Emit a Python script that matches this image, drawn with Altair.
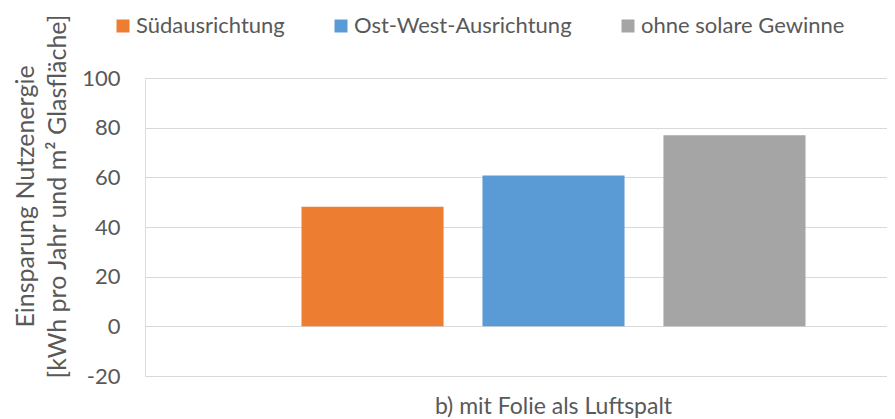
import altair as alt
import pandas as pd

categories = ["b) mit Folie als Luftspalt"]
series = ["Südausrichtung", "Ost-West-Ausrichtung", "ohne solare Gewinne"]
values = [48.2, 60.7, 76.9]
colors = ["#ED7D31", "#5B9BD5", "#A5A5A5"]
y_ticks = [-20, 0, 20, 40, 60, 80, 100]
y_title = ["Einsparung Nutzenergie", "[kWh pro Jahr und m² Glasfläche]"]

df = pd.DataFrame({"kategorie": categories * len(series), "serie": series, "wert": values})

FONT = "Lato"
TXT = "#595959"
GRID = "#D9D9D9"

chart = alt.Chart(df).mark_bar().encode(
    x=alt.X(
        "kategorie:N",
        scale=alt.Scale(range=[0, 817], paddingInner=0, paddingOuter=0.3105),
        axis=alt.Axis(title=None, labelAngle=0, domain=False, ticks=False, tickSize=0,
                      labelPadding=19, labelFontSize=23, labelColor=TXT, labelFont=FONT,
                      labelLimit=0, grid=False),
    ),
    xOffset=alt.XOffset("serie:N", sort=series,
                        scale=alt.Scale(paddingInner=0.215, paddingOuter=0)),
    y=alt.Y(
        "wert:Q",
        scale=alt.Scale(domain=[-20, 100], nice=False),
        axis=alt.Axis(values=y_ticks, title=y_title, domain=False, ticks=False, tickSize=0,
                      labelPadding=25, labelFontSize=22, labelColor=TXT, labelFont=FONT,
                      labelExpr="'' + datum.value",
                      grid=True, gridColor=GRID, gridWidth=1.2,
                      titleFont=FONT, titleFontSize=25, titleFontWeight="normal",
                      titleColor=TXT, titleAngle=270, titleAlign="center",
                      titleBaseline="alphabetic", titleLineHeight=32,
                      titleX=-112, titleY=118),
    ),
    color=alt.Color(
        "serie:N", sort=series,
        scale=alt.Scale(domain=series, range=colors),
        legend=alt.Legend(title=None, orient="none", direction="horizontal",
                          legendX=-33, legendY=-63, symbolType="square", symbolSize=169,
                          symbolStrokeWidth=0, labelFont=FONT, labelFontSize=22,
                          labelColor=TXT, labelOffset=2, labelLimit=0,
                          columnPadding=45, padding=0),
    ),
).properties(
    width=742, height=298,
    autosize=alt.AutoSizeParams(type="none"),
    padding={"left": 137, "top": 70, "right": 0, "bottom": 43},
).configure_view(stroke=None).configure(background="white")

chart.save("out.html", embed_options={"renderer": "svg", "actions": False})
